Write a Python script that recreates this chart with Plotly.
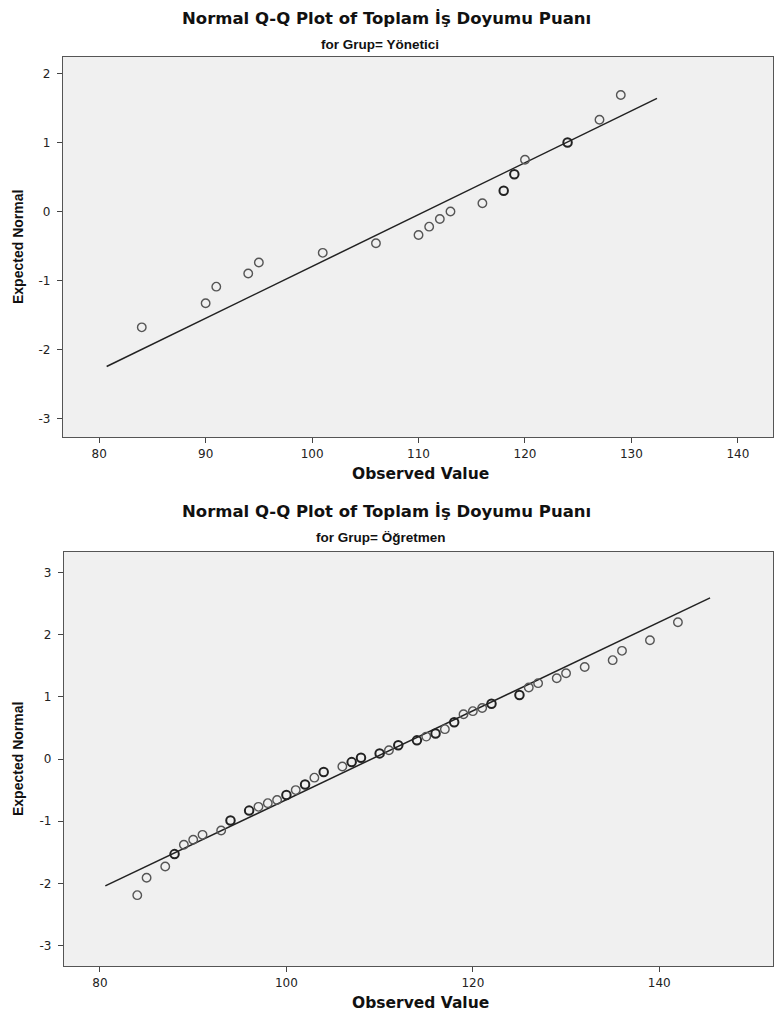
import plotly.graph_objects as go

W, H = 774, 1019

# ---------------- data ----------------
title_text = "Normal Q-Q Plot of Toplam İş Doyumu Puanı"
sub_yon = "for Grup= Yönetici"
sub_ogr = "for Grup= Öğretmen"
x_title = "Observed Value"
y_title = "Expected Normal"

yon_obs = [84, 90, 91, 94, 95, 101, 106, 110, 111, 112, 113, 116, 118, 119, 120, 124, 127, 129]
yon_exp = [-1.68, -1.33, -1.09, -0.90, -0.74, -0.60, -0.46, -0.34, -0.22, -0.11, 0.00, 0.12,
           0.30, 0.54, 0.75, 1.00, 1.33, 1.69]
yon_tie = [0, 0, 0, 0, 0, 0, 0, 0, 0, 0, 0, 0, 1, 1, 0, 1, 0, 0]
yon_mean, yon_sd = 110.6, 13.3
yon_line_x = [80.7, 132.4]

ogr_obs = [84, 85, 87, 88, 89, 90, 91, 93, 94, 96, 97, 98, 99, 100, 101, 102, 103, 104,
           106, 107, 108, 110, 111, 112, 114, 115, 116, 117, 118, 119, 120, 121, 122,
           125, 126, 127, 129, 130, 132, 135, 136, 139, 142]
ogr_exp = [-2.19, -1.91, -1.73, -1.53, -1.38, -1.30, -1.22, -1.15, -0.99, -0.83, -0.77,
           -0.71, -0.66, -0.58, -0.50, -0.41, -0.30, -0.21, -0.12, -0.05, 0.02, 0.09,
           0.14, 0.22, 0.30, 0.36, 0.41, 0.48, 0.59, 0.72, 0.77, 0.82, 0.89, 1.03, 1.15,
           1.22, 1.30, 1.38, 1.48, 1.59, 1.74, 1.91, 2.20]
ogr_tie = [0, 0, 0, 1, 0, 0, 0, 0, 1, 1, 0, 0, 0, 1, 0, 1, 0, 1, 0, 1, 1, 1, 0, 1, 1, 0,
           1, 0, 1, 0, 0, 0, 1, 1, 0, 0, 0, 0, 0, 0, 0, 0, 0]
ogr_mean, ogr_sd = 109.15, 14.0
ogr_line_x = [80.57, 145.45]

yon_xticks = [80, 90, 100, 110, 120, 130, 140]
yon_yticks = [-3, -2, -1, 0, 1, 2]
ogr_xticks = [80, 100, 120, 140]
ogr_yticks = [-3, -2, -1, 0, 1, 2, 3]

# ---------------- figure ----------------
fig = go.Figure()


def add_panel(obs, exp, tie, mean, sd, line_x, xa, ya):
    xs = [o for o, t in zip(obs, tie) if not t]
    ys = [e for e, t in zip(exp, tie) if not t]
    xb = [o for o, t in zip(obs, tie) if t]
    yb = [e for e, t in zip(exp, tie) if t]
    ly = [(x - mean) / sd for x in line_x]
    fig.add_trace(go.Scatter(x=line_x, y=ly, mode="lines", xaxis=xa, yaxis=ya,
                             line=dict(color="#222222", width=1.5), showlegend=False,
                             hoverinfo="skip"))
    fig.add_trace(go.Scatter(x=xs, y=ys, mode="markers", xaxis=xa, yaxis=ya,
                             marker=dict(symbol="circle-open", size=8.5, color="#555555",
                                         line=dict(color="#555555", width=1.4)),
                             showlegend=False))
    fig.add_trace(go.Scatter(x=xb, y=yb, mode="markers", xaxis=xa, yaxis=ya,
                             marker=dict(symbol="circle-open", size=8.5, color="#222222",
                                         line=dict(color="#222222", width=2)),
                             showlegend=False))


add_panel(yon_obs, yon_exp, yon_tie, yon_mean, yon_sd, yon_line_x, "x", "y")
add_panel(ogr_obs, ogr_exp, ogr_tie, ogr_mean, ogr_sd, ogr_line_x, "x2", "y2")


def px_x(p):
    return p / W


def px_y(p):
    return 1 - p / H


tickfont = dict(family="DejaVu Sans, Verdana, sans-serif", size=12, color="#222222")
axis_common = dict(showgrid=False, zeroline=False, showline=True, linecolor="#555555",
                   linewidth=1.3, mirror=True, ticks="outside", ticklen=5,
                   tickcolor="#444444", tickwidth=1.2, tickfont=tickfont)

fig.update_layout(
    width=W, height=H,
    margin=dict(l=0, r=0, t=0, b=0),
    paper_bgcolor="white",
    plot_bgcolor="#f0f0f0",
    xaxis=dict(domain=[px_x(63), px_x(773)], range=[76.6, 143.3], tickvals=yon_xticks,
               ticktext=[str(v) for v in yon_xticks], anchor="y", **axis_common),
    yaxis=dict(domain=[px_y(437), px_y(57)], range=[-3.27, 2.24], tickvals=yon_yticks,
               ticktext=[str(v) for v in yon_yticks], anchor="x", ticklabelstandoff=4,
               **axis_common),
    xaxis2=dict(domain=[px_x(64), px_x(773)], range=[76.14, 152.2], tickvals=ogr_xticks,
                ticktext=[str(v) for v in ogr_xticks], anchor="y2", **axis_common),
    yaxis2=dict(domain=[px_y(966), px_y(552)], range=[-3.33, 3.33], tickvals=ogr_yticks,
                ticktext=[str(v) for v in ogr_yticks], anchor="x2", ticklabelstandoff=4,
                **axis_common),
)

title_font = dict(family="DejaVu Sans, Verdana, sans-serif", size=16.5, color="#111111")
sub_font = dict(family="Liberation Sans, Arial, sans-serif", size=13.5, color="#111111")
xt_font = dict(family="DejaVu Sans, Verdana, sans-serif", size=15.5, color="#111111")
yt_font = dict(family="Liberation Sans, Arial, sans-serif", size=14, color="#111111")

ann = []
for cy_title, cy_sub, sub, cy_xt, cy_yt in [
    (18, 44, sub_yon, 474, 247),
    (511, 537, sub_ogr, 1003, 759),
]:
    ann.append(dict(text="<b>" + title_text + "</b>", x=px_x(386), y=px_y(cy_title),
                    xref="paper", yref="paper", showarrow=False, font=title_font,
                    xanchor="center", yanchor="middle"))
    ann.append(dict(text="<b>" + sub + "</b>", x=px_x(380), y=px_y(cy_sub),
                    xref="paper", yref="paper", showarrow=False, font=sub_font,
                    xanchor="center", yanchor="middle"))
    ann.append(dict(text="<b>" + x_title + "</b>", x=px_x(420), y=px_y(cy_xt),
                    xref="paper", yref="paper", showarrow=False, font=xt_font,
                    xanchor="center", yanchor="middle"))
    ann.append(dict(text="<b>" + y_title + "</b>", x=px_x(18), y=px_y(cy_yt),
                    xref="paper", yref="paper", showarrow=False, font=yt_font,
                    textangle=-90, xanchor="center", yanchor="middle"))
fig.update_layout(annotations=ann)

fig.write_html("out.html", config={"displayModeBar": False},
               post_script="document.body.style.margin='0';")
